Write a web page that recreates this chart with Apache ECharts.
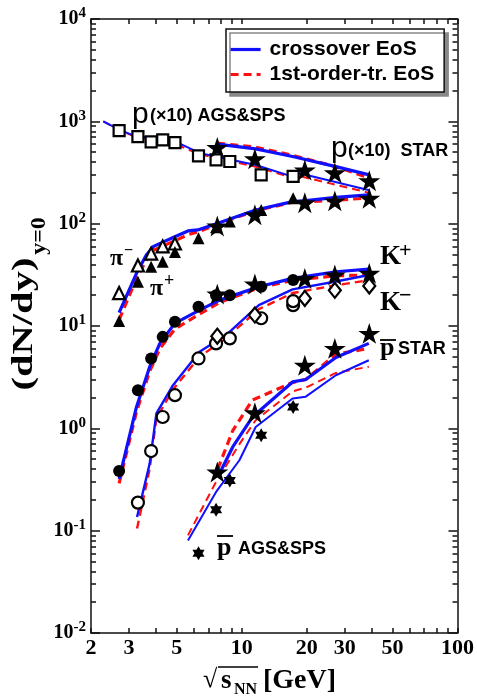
<!DOCTYPE html>
<html><head><meta charset="utf-8">
<script src="https://cdn.jsdelivr.net/npm/echarts@6/dist/echarts.min.js"></script>
<style>html,body{margin:0;padding:0;background:#fff}#c{width:477px;height:698px}</style>
</head><body><div id="c"></div>
<script>
// ---------- axis ticks ----------
const xTicks = [2,3,4,5,6,7,8,9,10,20,30,40,50,60,70,80,90,100];
const xLabels = [2,3,5,10,20,30,50,100];
const yMajor = [0.01,0.1,1,10,100,1000,10000];
const yMinor = [0.02,0.03,0.04,0.05,0.06,0.07,0.08,0.09,0.2,0.3,0.4,0.5,0.6,0.7,0.8,0.9,2,3,4,5,6,7,8,9,20,30,40,50,60,70,80,90,200,300,400,500,600,700,800,900,2000,3000,4000,5000,6000,7000,8000,9000];

// ---------- data points ----------
const pAgsX = [2.7,3.3,3.8,4.3,4.9,6.3,7.6,8.8,12.3,17.3];
const pAgsY = [810,710,630,660,620,460,420,405,300,290];
const pStarX = [7.7,11.5,19.6,27,39];
const pStarY = [555,430,335,315,263];

const piMinusX = [2.7,3.3,3.8,4.3,4.9];
const piMinusY = [21,39,51,60,64];
const piPlusX = [2.7,3.3,3.8,4.3,4.9,6.3,7.6,8.8,12.3,17.3];
const piPlusY = [11.2,27,38,42.5,53,72,92,105,136,177];
const piStarX = [7.7,11.5,19.6,27,39];
const piStarY = [95,122,160,167,177];

const kPlusX = [2.7,3.3,3.8,4.3,4.9,6.3,7.6,8.8,12.3,17.3];
const kPlusY = [0.383,2.36,4.82,7.83,11.0,15.4,20.0,20.0,24.2,28.1];
const kPlusStarX = [7.7,11.5,19.6,27,39];
const kPlusStarY = [20.5,25.7,29.2,31.5,32.7];
const kMinusX = [3.3,3.8,4.3,4.9,6.3,7.6,8.8,12.3,17.3,17.3];
const kMinusY = [0.188,0.60,1.29,2.11,4.82,6.76,7.57,11.9,16.0,17.5];
const kMinusStarX = [7.7,11.5,19.6,27,39];
const kMinusStarY = [7.96,12.8,18.6,22.3,24.6];

const pbarStarX = [7.7,11.5,19.6,27,39];
const pbarStarY = [0.374,1.42,4.14,6.04,8.47];
const pbarAgsX = [6.3,7.6,8.8,12.3,17.3];
const pbarAgsY = [0.060,0.160,0.31,0.857,1.62];

// ---------- model curves ----------
const cPAgsX = [2.28,2.7,3.25,4.3,5.1,6.4,7.6,11.6,17.2,18.5,39];
const cPAgsBlue = [1000,830,710,684,612,489,453,375,288,311,212];
const cPAgsRed = [1000,820,700,650,580,475,440,360,280,292,200];
const cPStarX = [7.7,11.6,17.2,27.3,39];
const cPStarBlue = [598,538,453,361,300];
const cPStarRed = [612,560,465,360,280];

const cPiX = [2.7,3.25,3.61,3.9,4.89,5.63,6.25,7.74,11.6,17.2,19.8,27.3,38.8];
const cPiBlue = [13.5,32.7,49.4,60,74.6,84.9,86.9,101,136,164,168,181,191];
const cPiRed = [11.5,29,44,55,68,78,83,99,134,162,163,170,178];

const cKpX = [2.7,3.25,3.74,4.17,4.89,6.37,7.89,12.0,17.2,27.3,38.8];
const cKpBlue = [0.32,1.62,3.98,6.76,10.6,14.3,17.9,24.2,29.2,33.9,36.0];
const cKpRed = [0.29,1.45,3.6,6.0,9.3,13.1,17.0,23.5,28.0,31.0,31.5];
const cKmX = [3.27,3.74,4.02,4.80,6.37,8.45,12.0,17.2,27.3,38.8];
const cKmBlue = [0.136,0.45,1.40,2.64,5.6,8.15,16.0,22.8,27.2,31.5];
const cKmRed = [0.105,0.40,1.25,2.4,5.0,7.6,14.6,21.0,25.0,28.0];

const cPbStarX = [7.74,9.08,11.2,17.2,19.8,27.3,38.8];
const cPbStarBlue = [0.335,0.658,1.29,2.84,3.0,4.93,6.76];
const cPbStarRed = [0.40,0.95,1.89,2.8,3.0,5.3,6.04];
const cPbAgsX = [5.63,7.6,9.75,11.6,17.2,19.8,27.3,38.8];
const cPbAgsBlue = [0.080,0.239,0.488,1.03,1.96,2.04,3.3,4.63];
const cPbAgsRed = [0.09,0.30,0.70,1.2,2.3,2.5,3.48,4.0];

// ---------- build ----------
const BLUE = '#1010ff', RED = '#ff1010';
const NAME_B = 'crossover EoS', NAME_R = '1st-order-tr. EoS';
const pts = (xs, ys) => xs.map((x, i) => [x, ys[i]]);
const STAR = 'path://M50,0 L61.2,34.5 L97.6,34.5 L68.2,55.9 L79.4,90.5 L50,69.1 L20.6,90.5 L31.8,55.9 L2.4,34.5 L38.8,34.5 Z';
const HEX = 'path://M50,0 L93.3,75 L6.7,75 Z M50,100 L6.7,25 L93.3,25 Z';

function line(name, xs, ys, color, width, dashed) {
  return {type:'line', name, data: pts(xs, ys), symbol:'none', showSymbol:false, z: dashed ? 3 : 4, silent:true,
    emphasis:{disabled:true},
    lineStyle:{color, width, type: dashed ? [8,5] : 'solid', opacity:1}, itemStyle:{color, opacity:0}};
}
function scat(name, xs, ys, symbol, size, open) {
  return {type:'scatter', name, data: pts(xs, ys), symbol, symbolSize: size, symbolKeepAspect:true, z: 6, silent:true,
    emphasis:{disabled:true},
    itemStyle: open ? {color:'#fff', borderColor:'#000', borderWidth:2.2, opacity:1} : {color:'#000', borderColor:'#000', borderWidth:0, opacity:1}};
}

const series = [
  line(NAME_B, cPStarX, cPStarBlue, BLUE, 3.2, false),
  line(NAME_R, cPStarX, cPStarRed, RED, 3.2, true),
  line(NAME_B, cPAgsX, cPAgsBlue, BLUE, 2, false),
  line(NAME_R, cPAgsX, cPAgsRed, RED, 2, true),
  line(NAME_B, cPiX, cPiBlue, BLUE, 3.2, false),
  line(NAME_R, cPiX, cPiRed, RED, 3.2, true),
  line(NAME_B, cKpX, cKpBlue, BLUE, 3.2, false),
  line(NAME_R, cKpX, cKpRed, RED, 3.2, true),
  line(NAME_B, cKmX, cKmBlue, BLUE, 2.4, false),
  line(NAME_R, cKmX, cKmRed, RED, 2.4, true),
  line(NAME_B, cPbStarX, cPbStarBlue, BLUE, 3.2, false),
  line(NAME_R, cPbStarX, cPbStarRed, RED, 3.2, true),
  line(NAME_B, cPbAgsX, cPbAgsBlue, BLUE, 2, false),
  line(NAME_R, cPbAgsX, cPbAgsRed, RED, 2, true),
  scat('p AGS', pAgsX, pAgsY, 'rect', 11, true),
  scat('p STAR', pStarX, pStarY, STAR, 22, false),
  scat('pi-', piMinusX, piMinusY, 'triangle', 12, true),
  scat('pi+', piPlusX, piPlusY, 'triangle', 12, false),
  scat('pi STAR', piStarX, piStarY, STAR, 22, false),
  scat('K+', kPlusX, kPlusY, 'circle', 12, false),
  scat('K+ STAR', kPlusStarX, kPlusStarY, STAR, 22, false),
  scat('K-', kMinusX, kMinusY, 'circle', 12, true),
  scat('K- STAR', kMinusStarX, kMinusStarY, 'diamond', [12,15], true),
  scat('pbar STAR', pbarStarX, pbarStarY, STAR, 22, false),
  scat('pbar AGS', pbarAgsX, pbarAgsY, HEX, 14, false)
];

const AX = {color:'#111', width:1.5};
function xAx(pos, ticks, labels) {
  return {type:'log', logBase:10, min:2, max:100, position:pos, gridIndex:0,
    axisLine:{show:true, lineStyle:AX},
    axisTick:{show:true, inside:true, length:5, customValues:ticks, lineStyle:AX},
    axisLabel:labels ? {show:true, customValues:labels, margin:4,
      formatter:v => String(Math.round(v)),
      fontFamily:'Liberation Serif', fontWeight:'bold', fontSize:22, color:'#000'} : {show:false},
    splitLine:{show:false}, minorTick:{show:false}};
}
function yAx(pos, ticks, len, labels, line) {
  return {type:'log', logBase:10, min:0.01, max:10000, position:pos, gridIndex:0,
    axisLine:{show:line, lineStyle:AX},
    axisTick:{show:true, inside:true, length:len, customValues:ticks, lineStyle:AX},
    axisLabel:labels ? {show:true, customValues:labels, margin:5,
      formatter:v => '{b|10}{s|' + Math.round(Math.log10(v)) + '}',
      rich:{b:{fontFamily:'Liberation Serif', fontWeight:'bold', fontSize:20, color:'#000', lineHeight:26},
            s:{fontFamily:'Liberation Serif', fontWeight:'bold', fontSize:15, color:'#000', verticalAlign:'top', lineHeight:15}}} : {show:false},
    splitLine:{show:false}, minorTick:{show:false}};
}

const SERIF = '"Liberation Serif"', SANS = '"Liberation Sans"';
function T(text, x, y, font, extra) {
  return Object.assign({type:'text', x, y, z:100, silent:true,
    style:{text, font, fill:'#000', align:'left', verticalAlign:'middle', textAlign:'left', textVerticalAlign:'middle'}}, extra || {});
}
function L(x1, y1, x2, y2, w) {
  return {type:'line', z:100, silent:true, shape:{x1,y1,x2,y2}, style:{stroke:'#000', lineWidth:w||1.6}};
}
function TR(text, x, y, font, sx) {
  return {type:'text', x, y, z:100, silent:true, rotation:Math.PI/2, scaleX:sx,
    style:{text, font, fill:'#000', align:'center', verticalAlign:'middle', textAlign:'center', textVerticalAlign:'middle'}};
}

const graphic = [
  // axis titles
  TR('(dN/dy)', 24, 324, 'bold 30px ' + SERIF, 1.35),
  TR('y=0', 40, 236, 'bold 20px ' + SERIF, 1.2),
  T('√', 203, 680, 'bold 26px ' + SERIF),
  T('s', 221, 681, 'bold 27px ' + SERIF),
  T('NN', 234, 690, 'bold 16px ' + SERIF),
  T('[GeV]', 263, 681, 'bold 28px ' + SERIF),
  L(218, 667, 258, 667, 1.6),
  // species labels
  T('p', 132, 115, '30px ' + SANS),
  T('(×10) AGS&SPS', 150, 116, 'bold 18px ' + SANS),
  T('p', 331, 149, '30px ' + SANS),
  T('(×10)  STAR', 348, 151, 'bold 18px ' + SANS),
  T('π', 110, 259, 'bold 24px ' + SERIF),
  T('−', 124, 251, 'bold 16px ' + SERIF),
  T('π', 150, 289, 'bold 24px ' + SERIF),
  T('+', 164, 281, 'bold 18px ' + SERIF),
  T('K', 380, 257, 'bold 27px ' + SERIF),
  T('+', 399, 251, 'bold 22px ' + SERIF),
  T('K', 380, 303, 'bold 27px ' + SERIF),
  T('−', 399, 296, 'bold 22px ' + SERIF),
  T('p', 380, 348, 'bold 26px ' + SERIF),
  L(380, 340, 396, 340, 1.8),
  T('STAR', 398, 349, 'bold 18px ' + SANS),
  T('p', 217, 548, 'bold 26px ' + SERIF),
  L(217, 536, 233, 536, 1.8),
  T('AGS&SPS', 238, 549, 'bold 18px ' + SANS)
];

const option = {
  animation:false,
  backgroundColor:'#fff',
  grid:{left:91, right:18, top:19, bottom:65, containLabel:false},
  legend:{data:[NAME_B, NAME_R], orient:'vertical', left:226, top:29, itemWidth:30, itemHeight:14, itemGap:4,
    padding:[10,10,7,3], backgroundColor:'#fff', borderColor:'#111', borderWidth:1.5,
    shadowColor:'#888', shadowOffsetX:4, shadowOffsetY:4, shadowBlur:0.01,
    itemStyle:{opacity:0}, lineStyle:{width:3.2},
    textStyle:{fontFamily:'Liberation Sans', fontWeight:'bold', fontSize:21, color:'#000', lineHeight:20, padding:[0,0,0,4]}},
  xAxis:[xAx('bottom', xTicks, xLabels), xAx('top', xTicks, null)],
  yAxis:[yAx('left', yMajor, 9, yMajor, true), yAx('left', yMinor, 5, null, false),
         yAx('right', yMajor, 9, null, true), yAx('right', yMinor, 5, null, false)],
  series: series.map(s => Object.assign(s, {xAxisIndex:0, yAxisIndex:0})),
  graphic
};
const chart = echarts.init(document.getElementById('c'), null, {renderer:'canvas'});
chart.setOption(option);
</script></body></html>
